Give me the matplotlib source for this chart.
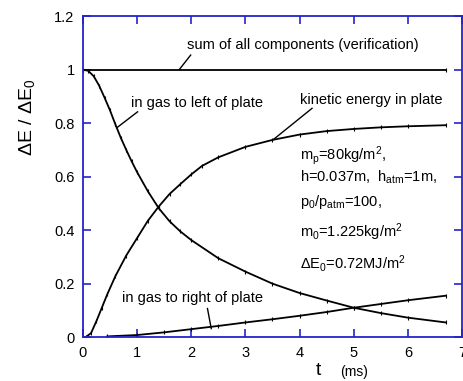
import matplotlib
matplotlib.use("Agg")
import matplotlib.pyplot as plt

plt.rcParams['font.family'] = ['Liberation Sans', 'DejaVu Sans']
plt.rcParams['mathtext.fontset'] = 'custom'
plt.rcParams['mathtext.rm'] = 'Liberation Sans'
plt.rcParams['mathtext.it'] = 'Liberation Sans'
plt.rcParams['mathtext.bf'] = 'Liberation Sans:bold'
plt.rcParams['mathtext.default'] = 'regular'

# ---- data ----
t_sum = [0.0, 6.7]
e_sum = [1.0, 1.0]

t_left = [0.0, 0.1, 0.2, 0.3, 0.4, 0.5, 0.6, 0.7, 0.8, 0.9, 1.0, 1.2, 1.4, 1.6,
          1.8, 2.0, 2.5, 3.0, 3.5, 4.0, 4.5, 5.0, 5.5, 6.0, 6.7]
e_left = [1.0, 0.995, 0.975, 0.94, 0.895, 0.848, 0.795, 0.745, 0.70, 0.657, 0.617,
          0.545, 0.482, 0.433, 0.395, 0.363, 0.295, 0.245, 0.20, 0.165, 0.137,
          0.11, 0.09, 0.073, 0.055]

t_kin = [0.05, 0.15, 0.25, 0.35, 0.45, 0.6, 0.8, 1.0, 1.2, 1.4, 1.6, 1.8, 2.0,
         2.2, 2.5, 3.0, 3.5, 4.0, 4.5, 5.0, 5.5, 6.0, 6.7]
e_kin = [0.0, 0.015, 0.06, 0.11, 0.16, 0.228, 0.305, 0.37, 0.435, 0.488, 0.535,
         0.572, 0.608, 0.64, 0.672, 0.711, 0.737, 0.757, 0.77, 0.778, 0.784,
         0.788, 0.792]

t_right = [0.45, 1.0, 1.5, 2.0, 2.5, 3.0, 3.5, 4.0, 4.5, 5.0, 5.5, 6.0, 6.7]
e_right = [0.003, 0.008, 0.018, 0.03, 0.042, 0.055, 0.067, 0.08, 0.094, 0.11,
           0.124, 0.138, 0.155]

x_ticks = [0, 1, 2, 3, 4, 5, 6, 7]
y_ticks = [0, 0.2, 0.4, 0.6, 0.8, 1.0, 1.2]
y_ticklabels = ['0', '0.2', '0.4', '0.6', '0.8', '1', '1.2']

params = [r'm$_{p}$=80kg/m$^{2}$,',
          r'h=0.037m,  h$_{atm}$=1m,',
          r'p$_{0}$/p$_{atm}$=100,',
          r'm$_{0}$=1.225kg/m$^{2}$',
          r'$\Delta$E$_{0}$=0.72MJ/m$^{2}$']

# ---- figure ----
fig = plt.figure(figsize=(4.63, 3.81), dpi=100)
ax = fig.add_axes([0.179, 0.115, 0.819, 0.843])
blue = '#2424c8'

for t, e in [(t_sum, e_sum), (t_left, e_left), (t_kin, e_kin), (t_right, e_right)]:
    ax.plot(t, e, color='black', lw=1.3, marker='|', ms=3, mew=0.8)

ax.set_xlim(0, 7)
ax.set_ylim(0, 1.2)
ax.set_xticks(x_ticks)
ax.set_yticks(y_ticks)
ax.set_yticklabels(y_ticklabels)
ax.tick_params(direction='in', length=6, width=1.2, color=blue, labelsize=10.5,
               top=True, right=True, pad=6)
for s in ax.spines.values():
    s.set_color(blue)
    s.set_linewidth(1.3)

fs = 10.5
ax.text(1.93, 1.09, 'sum of all components (verification)', fontsize=fs, va='center')
ax.plot([1.99, 1.78], [1.054, 1.0], color='black', lw=1)
ax.text(0.89, 0.876, 'in gas to left of plate', fontsize=fs, va='center')
ax.plot([1.01, 0.63], [0.842, 0.783], color='black', lw=1)
ax.text(4.01, 0.886, 'kinetic energy in plate', fontsize=fs, va='center')
ax.plot([4.23, 3.52], [0.855, 0.739], color='black', lw=1)
ax.text(0.73, 0.145, 'in gas to right of plate', fontsize=fs, va='center')
ax.plot([2.30, 2.37], [0.107, 0.032], color='black', lw=1)

for yy, s in zip([0.68, 0.599, 0.506, 0.394, 0.275], params):
    ax.text(4.01, yy, s, fontsize=fs, va='center')

fig.text(0.059, 0.693, r'$\Delta$E / $\Delta$E$_{0}$', rotation=90, fontsize=14,
         ha='center', va='center')
fig.text(0.687, 0.027, 't', fontsize=14, ha='center', va='center')
fig.text(0.765, 0.024, '(ms)', fontsize=10, ha='center', va='center')

fig.savefig('out.png', dpi=100)
